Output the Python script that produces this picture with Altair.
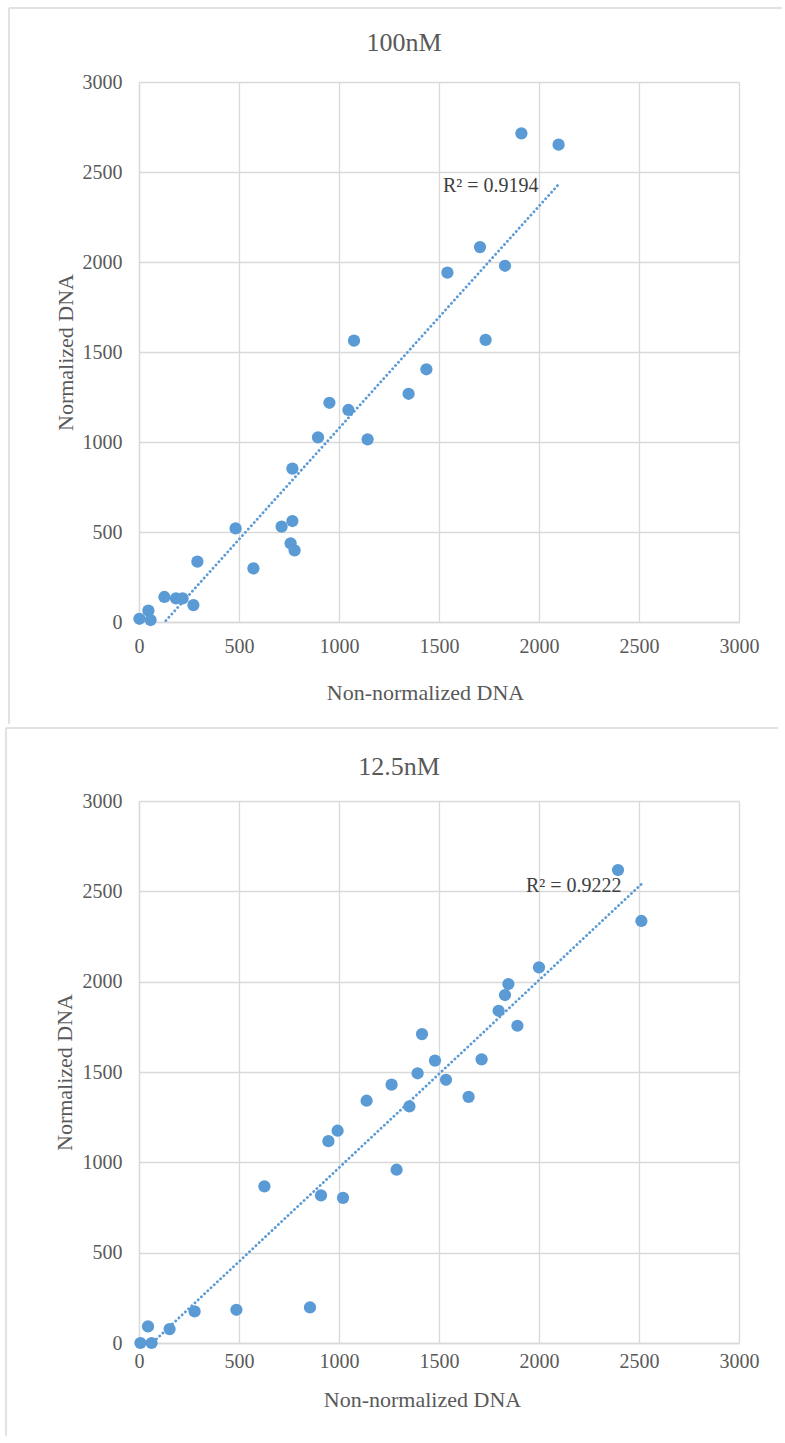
import altair as alt
import pandas as pd

# ---------------- data ----------------
top_x = [2, 47, 58, 127, 185, 218, 272, 292, 483, 572, 713, 767, 758, 778, 767,
         895, 952, 1047, 1075, 1143, 1348, 1437, 1542, 1705, 1733, 1830, 1912, 2098]
top_y = [18, 63, 11, 139, 131, 131, 94, 335, 520, 298, 530, 561, 437, 398, 852,
         1026, 1218, 1178, 1563, 1015, 1268, 1404, 1941, 2083, 1567, 1979, 2715, 2652]

bot_x = [7, 63, 45, 153, 278, 487, 855, 627, 910, 1020, 1288, 947, 993, 1138, 1263,
         1352, 1393, 1480, 1415, 1535, 1648, 1713, 1798, 1830, 1847, 1892, 2000, 2395, 2512]
bot_y = [0, 0, 92, 77, 175, 184, 197, 867, 817, 803, 959, 1117, 1175, 1341, 1430,
         1310, 1493, 1563, 1710, 1457, 1362, 1570, 1839, 1926, 1987, 1756, 2079, 2618, 2336]

panel_titles = ["100nM", "12.5nM"]
r2_labels = ["R\u00b2 = 0.9194", "R\u00b2 = 0.9222"]
r2_x = [1520, 1935]
r2_y = [2422, 2530]
x_title = "Non-normalized DNA"
y_title = "Normalized DNA"
tick_values = [0, 500, 1000, 1500, 2000, 2500, 3000]

# ---------------- style ----------------
BLUE = "#5b9bd5"
GRID = "#d9d9d9"
TEXT = "#595959"
FONT = "Liberation Serif"


def panel(xs, ys, title, r2, rx, ry, geo):
    df = pd.DataFrame({"x": xs, "y": ys})
    xscale = alt.Scale(domain=[0, 3000], nice=False)
    yscale = alt.Scale(domain=[0, 3000], nice=False)
    xaxis = alt.Axis(values=tick_values, format="d", title=x_title, ticks=False, tickSize=0,
                     labelPadding=geo["xlabpad"], labelFlush=False, labelOverlap=False,
                     titleX=geo["xtx"], titleY=geo["xty"], titleBaseline="middle",
                     titleAlign="center", grid=True)
    yaxis = alt.Axis(values=tick_values, format="d", title=y_title, ticks=False, tickSize=0,
                     labelPadding=17, labelOverlap=False, labelFlush=False,
                     titleX=geo["ytx"], titleY=geo["yty"], titleBaseline="middle",
                     titleAlign="center", titleAngle=270, grid=True)
    X = alt.X("x:Q", scale=xscale, axis=xaxis)
    Y = alt.Y("y:Q", scale=yscale, axis=yaxis)

    pts = alt.Chart(df).mark_circle(size=150, color=BLUE, opacity=1).encode(x=X, y=Y)
    trend = (alt.Chart(df)
             .transform_regression("x", "y", method="linear")
             .mark_line(clip=True, color=BLUE, strokeWidth=2.8,
                        strokeDash=[0.1, 4.3], strokeCap="round")
             .encode(x=X, y=Y))
    lab = (alt.Chart(pd.DataFrame({"x": [rx], "y": [ry], "t": [r2]}))
           .mark_text(align="left", baseline="middle", font=FONT, fontSize=20, color="#404040")
           .encode(x=X, y=Y, text="t:N"))
    ttl = (alt.Chart(pd.DataFrame({"t": [title]}))
           .mark_text(align="center", baseline="middle", font=FONT, fontSize=26, color=TEXT)
           .encode(x=alt.value(geo["tx"]), y=alt.value(geo["ty"]), text="t:N"))
    fr = pd.DataFrame({"k": [0]})
    border_top = (alt.Chart(fr).mark_rule(color=GRID, strokeWidth=1.5)
                  .encode(x=alt.value(geo["fl"]), x2=alt.value(geo["fr"]), y=alt.value(geo["ft"])))
    border_left = (alt.Chart(fr).mark_rule(color=GRID, strokeWidth=1.5)
                   .encode(x=alt.value(geo["fl"]), y=alt.value(geo["ft"]), y2=alt.value(geo["fb"])))
    return alt.layer(border_top, border_left, pts, trend, lab, ttl).properties(width=600, height=geo["h"])


top = panel(top_x, top_y, panel_titles[0], r2_labels[0], r2_x[0], r2_y[0],
            dict(h=540, xlabpad=14, xtx=286, xty=70, ytx=-74, yty=270,
                 tx=265, ty=-39, fl=-130, fr=643, ft=-74, fb=642))
bottom = panel(bot_x, bot_y, panel_titles[1], r2_labels[1], r2_x[1], r2_y[1],
               dict(h=542, xlabpad=8, xtx=283, xty=56, ytx=-75, yty=271,
                    tx=260, ty=-34, fl=-133, fr=639, ft=-73, fb=635))

chart = (alt.concat(top, bottom, columns=1, spacing=0)
         .properties(align="none", padding={"left": 4, "top": 6, "right": 0, "bottom": 0},
                     background="white")
         .configure_view(stroke="transparent")
         .configure_axis(labelFont=FONT, titleFont=FONT, labelColor=TEXT, titleColor=TEXT,
                         labelFontSize=20, titleFontSize=22, titleFontWeight="normal",
                         gridColor=GRID, gridWidth=1.3, domainColor=GRID, domainWidth=1.3))

chart.save("out.html", embed_options={"renderer": "svg", "actions": False})
